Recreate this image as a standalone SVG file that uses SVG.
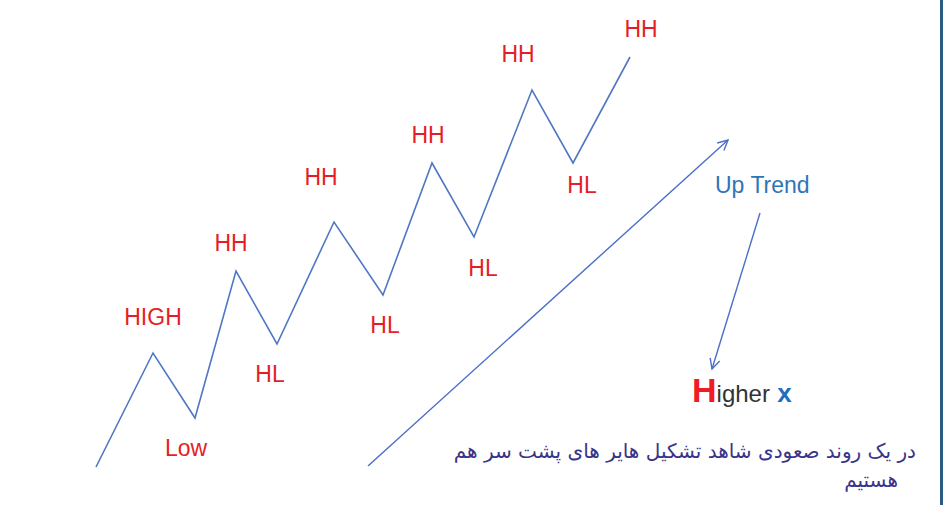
<svg xmlns="http://www.w3.org/2000/svg" width="943" height="505" viewBox="0 0 943 505">
<style>
.lbl{font-family:"Liberation Sans",Arial,sans-serif;font-size:23px;fill:#E41E26;text-anchor:middle}
.wave{fill:none;stroke:#5077C4;stroke-width:1.6;stroke-linejoin:miter}
.conn{fill:none;stroke:#4A6FC8;stroke-width:1.4}
.fa{font-family:"DejaVu Sans",sans-serif;font-size:20px;fill:#38348A}
</style>
<defs>
<marker id="ah" viewBox="0 0 12 12" refX="11" refY="6" markerWidth="12" markerHeight="12" markerUnits="userSpaceOnUse" orient="auto">
<path d="M1,1 L11,6 L1,11" fill="none" stroke="#4A6FC8" stroke-width="1.4"/>
</marker>
</defs>
<rect x="0" y="0" width="943" height="505" fill="#ffffff"/>
<rect x="940" y="0" width="3" height="505" fill="#2B5B84"/>
<g id="zigzag">
<polyline class="wave" points="96,467 153,353 195,418 236,271 277,344 334,222 383,295 432,163 474,237 532,90 573,163 630,57"/>
</g>
<g id="labels">
<g id="n-high"><text class="lbl" x="153" y="325">HIGH</text></g>
<g id="n-low"><text class="lbl" x="186" y="456">Low</text></g>
<g id="n-hh1"><text class="lbl" x="231" y="251">HH</text></g>
<g id="n-hl1"><text class="lbl" x="270" y="382">HL</text></g>
<g id="n-hh2"><text class="lbl" x="321" y="185">HH</text></g>
<g id="n-hl2"><text class="lbl" x="385" y="333">HL</text></g>
<g id="n-hh3"><text class="lbl" x="428" y="143">HH</text></g>
<g id="n-hl3"><text class="lbl" x="483" y="276">HL</text></g>
<g id="n-hh4"><text class="lbl" x="518" y="62">HH</text></g>
<g id="n-hl4"><text class="lbl" x="582" y="193">HL</text></g>
<g id="n-hh5"><text class="lbl" x="641" y="37">HH</text></g>
</g>
<g id="n-uptrend"><text x="715" y="193" font-family="Liberation Sans, Arial, sans-serif" font-size="23" fill="#2E75B6">Up Trend</text></g>
<g id="n-higher"><text x="692" y="402" font-family="Liberation Sans, Arial, sans-serif"><tspan font-size="34" font-weight="bold" fill="#EE1C25">H</tspan><tspan font-size="24" fill="#333333">igher</tspan><tspan font-size="26" font-weight="bold" fill="#1F6FC0"> x</tspan></text></g>
<g id="n-note">
<text class="fa" x="916" y="458" direction="rtl" text-anchor="start">در یک روند صعودی شاهد تشکیل هایر  های پشت سر هم</text>
<text class="fa" x="898" y="487" direction="rtl" text-anchor="start">هستیم</text>
</g>
<g id="connectors">
<line class="conn" x1="368" y1="466" x2="728" y2="140" marker-end="url(#ah)"/>
<line class="conn" x1="760" y1="213" x2="712" y2="369" marker-end="url(#ah)"/>
</g>
</svg>
